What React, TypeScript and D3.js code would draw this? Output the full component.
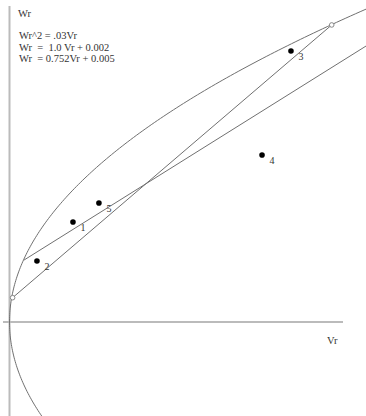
import * as d3 from "d3";

// parabola Wr^2 = a * Vr
const parabolaA = 0.03;

// straight lines, endpoints [Vr, Wr] as drawn
const lineA: [number, number][] = [
  [0.00025, 0.00228],
  [0.02594, 0.02786],
];
const lineB: [number, number][] = [
  [0.00117, 0.00581],
  [0.0287, 0.02588],
];

// numbered observations
const pointIds = ["1", "2", "3", "4", "5"];
const pointVr = [0.00511, 0.00221, 0.02266, 0.02033, 0.0072];
const pointWr = [0.00938, 0.00572, 0.02542, 0.01566, 0.01116];

const legendLines = [
  "Wr^2 = .03Vr",
  "Wr  =  1.0 Vr + 0.002",
  "Wr  = 0.752Vr + 0.005",
];

const width = 366;
const height = 416;

export default function App() {
  const x = d3.scaleLinear().domain([0, 0.0287]).range([9.5, width]);
  const y = d3.scaleLinear().domain([0, 0.0302]).range([322, 0]);

  const wrSamples = d3.range(-0.0095, 0.0305, 0.0002);
  const parabola = d3
    .line<number>()
    .x((wr) => x((wr * wr) / parabolaA))
    .y((wr) => y(wr))
    .curve(d3.curveBasis);

  const seg = d3
    .line<[number, number]>()
    .x((d) => x(d[0]))
    .y((d) => y(d[1]));

  const font = "'Liberation Serif', 'Times New Roman', serif";

  return (
    <svg
      width={width}
      height={height}
      style={{ position: "absolute", left: 0, top: 0, background: "#fff" }}
      fontFamily={font}
    >
      {/* axes */}
      <line x1={x(0)} x2={x(0)} y1={6} y2={height} stroke="#bbb" strokeWidth={2} />
      <line x1={3} x2={343} y1={y(0)} y2={y(0)} stroke="#bbb" strokeWidth={2} />
      <text x={18} y={17} fontSize={10.5} fill="#333">
        Wr
      </text>
      <text x={327} y={344} fontSize={10.5} fill="#333">
        Vr
      </text>

      {/* equations */}
      {legendLines.map((t, i) => (
        <text key={i} x={19} y={39 + i * 11.5} fontSize={10.5} fill="#333" style={{ whiteSpace: "pre" }}>
          {t}
        </text>
      ))}

      {/* curve and lines */}
      <path d={parabola(wrSamples) ?? ""} fill="none" stroke="#707070" strokeWidth={1} />
      <path d={seg(lineA) ?? ""} fill="none" stroke="#707070" strokeWidth={1} />
      <path d={seg(lineB) ?? ""} fill="none" stroke="#707070" strokeWidth={1} />
      {lineA.map((d, i) => (
        <circle key={i} cx={x(d[0])} cy={y(d[1])} r={2.3} fill="#fff" stroke="#888" strokeWidth={1} />
      ))}

      {/* points */}
      {pointIds.map((id, i) => (
        <g key={id}>
          <circle cx={x(pointVr[i])} cy={y(pointWr[i])} r={2.8} fill="#000" />
          <text
            x={x(pointVr[i]) + 10}
            y={y(pointWr[i]) + 9}
            fontSize={10}
            textAnchor="middle"
            fill="#333"
          >
            {id}
          </text>
        </g>
      ))}
    </svg>
  );
}
